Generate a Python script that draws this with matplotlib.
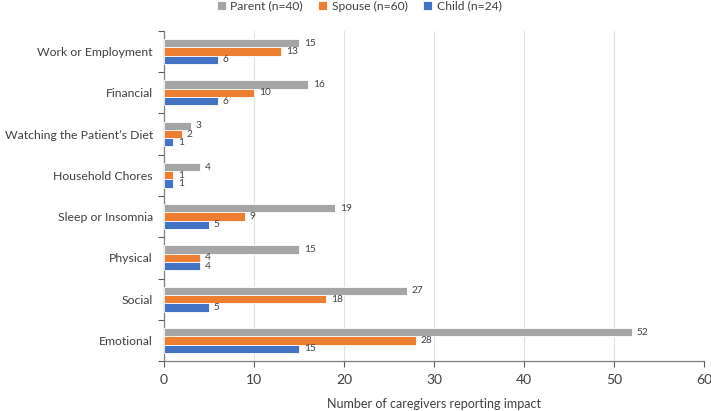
import numpy as np
import matplotlib; matplotlib.use("Agg")
import matplotlib.pyplot as plt

plt.rcParams.update({"font.family": ["Lato", "DejaVu Sans"]})

categories = ["Work or Employment", "Financial", "Watching the Patient\u2019s Diet", "Household Chores",
              "Sleep or Insomnia", "Physical", "Social", "Emotional"]
parent = [15, 16, 3, 4, 19, 15, 27, 52]
spouse = [13, 10, 2, 1, 9, 4, 18, 28]
child = [6, 6, 1, 1, 5, 4, 5, 15]
series = [("Parent (n=40)", parent, "#A5A5A5"), ("Spouse (n=60)", spouse, "#ED7D31"),
          ("Child (n=24)", child, "#4472C4")]

TXT = "#404040"
fig = plt.figure(figsize=(7.11, 4.11), dpi=100)
ax = fig.add_axes([164 / 711, 1 - 361 / 411, (704 - 164) / 711, (361 - 31) / 411])

n = len(categories)
y = np.arange(n)  # 0 at top after inversion
h = 0.2
for i, (lab, vals, col) in enumerate(series):
    pos = y + (i - 1) * h
    ax.barh(pos, vals, h, color=col, edgecolor="white", linewidth=0.6, label=lab, zorder=3)
    for p, v in zip(pos, vals):
        ax.text(v + 0.55, p, str(v), va="center", ha="left", fontsize=7.3, color=TXT)

ax.set_ylim(n - 0.5, -0.5)
ax.set_xlim(0, 60)
ax.set_xticks(np.arange(0, 61, 10))
ax.set_yticks(y)
ax.set_yticklabels(categories, fontsize=8.8, color=TXT)
ax.set_yticks(np.arange(-0.5, n, 1), minor=True)
ax.tick_params(axis="y", which="major", length=0, pad=8)
ax.tick_params(axis="y", which="minor", length=4, color="#595959", width=0.8)
ax.tick_params(axis="x", length=4, color="#595959", width=0.8, labelsize=10, labelcolor=TXT, pad=5)
ax.grid(axis="x", color="#E0E0E0", lw=0.8, zorder=0)
for s in ["top", "right"]:
    ax.spines[s].set_visible(False)
for s in ["left", "bottom"]:
    ax.spines[s].set_color("#7F7F7F")
    ax.spines[s].set_linewidth(0.9)
ax.set_xlabel("Number of caregivers reporting impact", fontsize=9, color=TXT, labelpad=9)

fig.legend(*ax.get_legend_handles_labels(), loc="upper center", bbox_to_anchor=(0.505, 1.025), ncol=3,
           frameon=False, fontsize=8.7, handlelength=0.75, handleheight=0.75, handletextpad=0.35,
           columnspacing=1.3, labelcolor=TXT)

fig.savefig("out.png", dpi=100, facecolor="white")
